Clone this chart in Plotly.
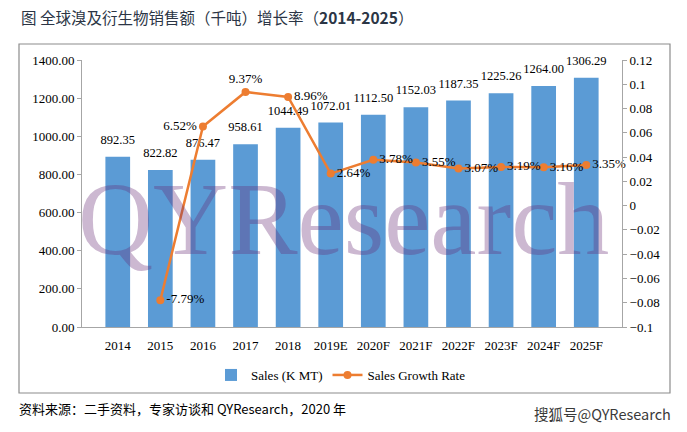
import plotly.graph_objects as go

categories = ["2014", "2015", "2016", "2017", "2018", "2019E", "2020F",
              "2021F", "2022F", "2023F", "2024F", "2025F"]
sales_kmt = [892.35, 822.82, 876.47, 958.61, 1044.49, 1072.01, 1112.50,
             1152.03, 1187.35, 1225.26, 1264.00, 1306.29]
growth_rate = [None, -0.0779, 0.0652, 0.0937, 0.0896, 0.0264, 0.0378,
               0.0355, 0.0307, 0.0319, 0.0316, 0.0335]
growth_text_pos = ["middle right", "middle right", "middle left", "top center",
                   "middle right", "middle right", "middle right", "middle right",
                   "middle right", "middle right", "middle right", "middle right"]

SERIF = "Liberation Serif, Times New Roman, serif"
CJK = "Noto Sans CJK SC, sans-serif"

W, H = 687, 432
L, R, T, B = 82, 65, 60, 105
pw, ph = W - L - R, H - T - B


def px_x(x):
    return (x - L) / pw


def px_y(y):
    return (H - B - y) / ph


fig = go.Figure()
fig.add_trace(go.Bar(
    x=categories, y=sales_kmt, name="Sales (K MT)",
    marker=dict(color="#5B9BD5", line=dict(width=0)),
))
# value labels above the bars (invisible markers set the gap)
fig.add_trace(go.Scatter(
    x=categories, y=sales_kmt, mode="markers+text", showlegend=False,
    texttemplate="%{y:.2f}", textposition="top center",
    marker=dict(size=14, color="rgba(0,0,0,0)"),
    textfont=dict(family=SERIF, size=12.5, color="#000000"),
    cliponaxis=False,
))
fig.add_trace(go.Scatter(
    x=categories, y=growth_rate, name="Sales Growth Rate", yaxis="y2",
    mode="lines+markers+text",
    line=dict(color="#ED7D31", width=2.5),
    marker=dict(color="#ED7D31", size=8),
    texttemplate="%{y:.2%}", textposition=growth_text_pos,
    textfont=dict(family=SERIF, size=13, color="#000000"),
    cliponaxis=False,
))

fig.update_layout(
    width=W, height=H,
    margin=dict(l=L, r=R, t=T, b=B),
    paper_bgcolor="white", plot_bgcolor="white",
    bargap=0.42,
    hovermode=False,
    font=dict(family=SERIF, size=13, color="#000000"),
    xaxis=dict(
        showline=True, linecolor="#A6A6A6", linewidth=1,
        ticks="outside", ticklen=0, ticklabelstandoff=6,
        tickfont=dict(family=SERIF, size=13, color="#000000"),
        showgrid=False,
    ),
    yaxis=dict(
        range=[0, 1400], dtick=200, tickformat=".2f",
        showline=True, linecolor="#A6A6A6", linewidth=1,
        ticks="outside", ticklen=4, tickcolor="#A6A6A6",
        showgrid=False, zeroline=False,
        tickfont=dict(family=SERIF, size=13, color="#000000"),
    ),
    yaxis2=dict(
        range=[-0.1, 0.12], dtick=0.02, overlaying="y", side="right",
        showline=True, linecolor="#A6A6A6", linewidth=1,
        ticks="outside", ticklen=4, tickcolor="#A6A6A6",
        showgrid=False, zeroline=False,
        tickfont=dict(family=SERIF, size=13, color="#000000"),
    ),
    legend=dict(
        orientation="h", x=px_x(341), xanchor="center",
        y=px_y(375), yanchor="middle",
        font=dict(family=SERIF, size=13, color="#000000"),
        itemwidth=30, tracegroupgap=0,
    ),
    shapes=[dict(
        type="rect", xref="paper", yref="paper",
        x0=px_x(19), x1=px_x(670), y0=px_y(393), y1=px_y(44),
        line=dict(color="#8C8C8C", width=1.2), fillcolor="rgba(0,0,0,0)",
        layer="below",
    )],
    annotations=[
        dict(
            text="图 全球溴及衍生物销售额（千吨）增长率（<b>2014-2025</b>）",
            xref="paper", yref="paper", x=px_x(19), y=px_y(17),
            xanchor="left", yanchor="middle", showarrow=False,
            font=dict(family=CJK, size=15.5, color="#2B3545"),
        ),
        dict(
            text="QYResearch",
            xref="paper", yref="paper", x=px_x(343), y=px_y(218),
            xanchor="center", yanchor="middle", showarrow=False,
            font=dict(family=SERIF, size=104, color="rgba(100,40,115,0.33)"),
        ),
        dict(
            text="资料来源：二手资料，专家访谈和 QYResearch，2020 年",
            xref="paper", yref="paper", x=px_x(17), y=px_y(409),
            xanchor="left", yanchor="middle", showarrow=False,
            font=dict(family=CJK, size=13, color="#000000"),
        ),
        dict(
            text="搜狐号@QYResearch",
            xref="paper", yref="paper", x=px_x(673), y=px_y(413),
            xanchor="right", yanchor="middle", showarrow=False,
            font=dict(family=CJK, size=14.5, color="#3A3A3A"),
        ),
    ],
)

fig.write_html(
    "out.html",
    config={"displayModeBar": False},
    post_script="document.body.style.margin='0';document.body.style.padding='0';",
)
